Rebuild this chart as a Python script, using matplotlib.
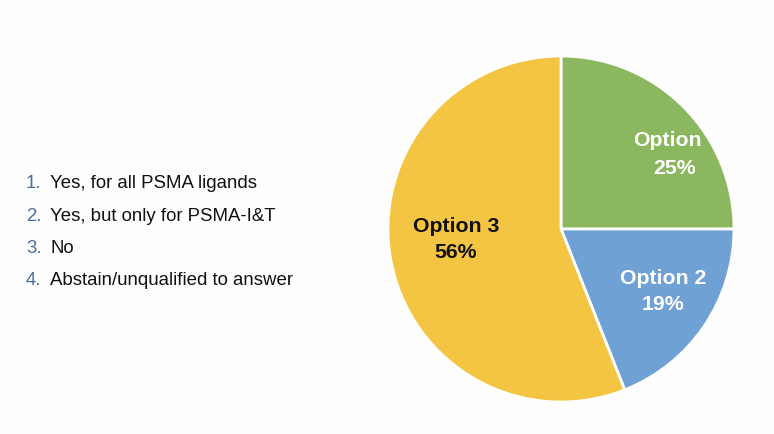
import matplotlib
matplotlib.use("Agg")
import matplotlib.pyplot as plt

# Data
categories = ["Option 1", "Option 2", "Option 3"]
shares = [25, 19, 56]
slice_labels = ["Option", "Option 2", "Option 3"]
colors = ["#8BB75E", "#6FA1D5", "#F4C542"]
label_colors = ["white", "white", "#111111"]
answers = ["Yes, for all PSMA ligands", "Yes, but only for PSMA-I&T", "No",
           "Abstain/unqualified to answer"]

W, H = 774, 434
fig = plt.figure(figsize=(W / 100, H / 100), dpi=100)
fig.patch.set_facecolor("#FDFEFD")
ax = fig.add_axes([0, 0, 1, 1])
ax.set_xlim(0, W)
ax.set_ylim(0, H)
ax.set_aspect("equal")
ax.axis("off")

cx, cy, r = 561, H - 229, 173
wedges, _ = ax.pie(shares, colors=colors, startangle=90, counterclock=False,
                   center=(cx, cy), radius=r, frame=True,
                   wedgeprops=dict(edgecolor="white", linewidth=2))
ax.set_xlim(0, W)
ax.set_ylim(0, H)
ax.axis("off")

font = "Liberation Sans"
# slice labels (positions in pixel coords, y measured from top)
label_pos = [((667, 141), (675, 168)), ((663, 279), (663, 304)), ((456, 227), (456, 252))]
for lab, val, col, (p1, p2) in zip(slice_labels, shares, label_colors, label_pos):
    ax.text(p1[0], H - p1[1], lab, ha="center", va="center", color=col,
            fontsize=15.3, fontweight="bold", family=font)
    ax.text(p2[0], H - p2[1], f"{val}%", ha="center", va="center", color=col,
            fontsize=15.3, fontweight="bold", family=font)

# answer list
y0, dy = 184, 32.3
for i, a in enumerate(answers):
    y = H - (y0 + i * dy)
    ax.text(26, y, f"{i + 1}.", ha="left", va="center", color="#4B6E9C",
            fontsize=13.4, family=font)
    ax.text(50, y, a, ha="left", va="center", color="#111111",
            fontsize=13.4, family=font)

fig.savefig("out.png", dpi=100, facecolor=fig.get_facecolor())
